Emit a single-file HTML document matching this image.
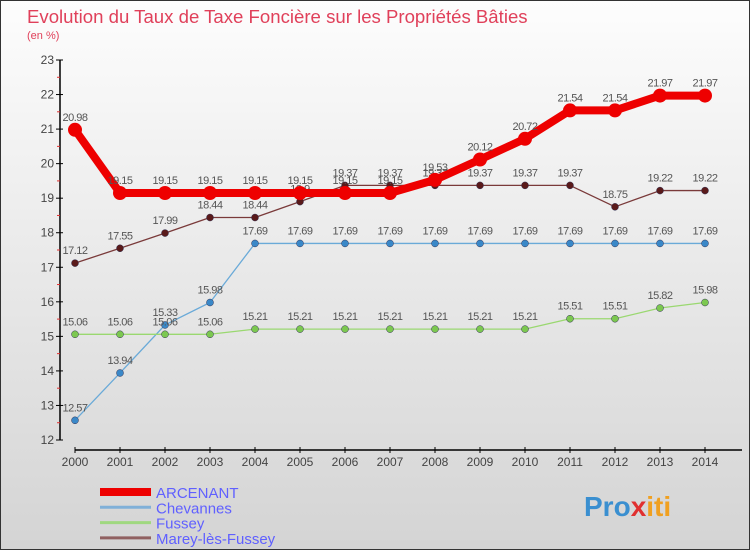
<!DOCTYPE html>
<html><head><meta charset="utf-8"><style>
html,body{margin:0;padding:0}
body{width:750px;height:550px;overflow:hidden;font-family:"Liberation Sans",sans-serif}
#c{position:absolute;left:0;top:0;width:748px;height:548px;border:1px solid #333;background:linear-gradient(#fdfdfd,#d4d4d4)}
</style></head><body>
<div id="c">
<svg id="s" width="750" height="550" style="position:absolute;left:-1px;top:-1px">
<text x="27" y="23" font-size="18.6" fill="#e0405a">Evolution du Taux de Taxe Foncière sur les Propriétés Bâties</text>
<text x="27" y="39" font-size="11" fill="#e0405a">(en %)</text>
<g id="axes"></g><g id="series"></g><g id="legend"></g>
<text x="584" y="516" font-size="28" font-weight="bold" fill="#f0a020"><tspan fill="#3a8fd0">Pro</tspan><tspan fill="#e03030">x</tspan><tspan fill="#f0a020">iti</tspan></text>
</svg>
</div>
<script>
const years=[2000,2001,2002,2003,2004,2005,2006,2007,2008,2009,2010,2011,2012,2013,2014];
const yTicks=[12,13,14,15,16,17,18,19,20,21,22,23];
const arcenant=[20.98,19.15,19.15,19.15,19.15,19.15,19.15,19.15,19.53,20.12,20.72,21.54,21.54,21.97,21.97];
const chevannes=[12.57,13.94,15.33,15.98,17.69,17.69,17.69,17.69,17.69,17.69,17.69,17.69,17.69,17.69,17.69];
const fussey=[15.06,15.06,15.06,15.06,15.21,15.21,15.21,15.21,15.21,15.21,15.21,15.51,15.51,15.82,15.98];
const marey=[17.12,17.55,17.99,18.44,18.44,18.9,19.37,19.37,19.37,19.37,19.37,19.37,18.75,19.22,19.22];
const names=["ARCENANT","Chevannes","Fussey","Marey-lès-Fussey"];
const NS="http://www.w3.org/2000/svg";
const X=i=>75+(i)*(630/(years.length-1));
const Y=v=>440-(v-12)*(380/11);
function mk(t,a,p){const e=document.createElementNS(NS,t);for(const k in a)e.setAttribute(k,a[k]);p.appendChild(e);return e;}
const ax=document.getElementById('axes');
let yl=mk('line',{x1:60,y1:Y(23),x2:60,y2:Y(12),stroke:'#000','stroke-width':1.5},ax);

yTicks.forEach(v=>{
 mk('line',{x1:56,y1:Y(v),x2:63,y2:Y(v),stroke:'#000'},ax);
 if(v<23)mk('line',{x1:57,y1:Y(v+0.5),x2:60,y2:Y(v+0.5),stroke:'#e03030'},ax);
 const t=mk('text',{x:54,y:Y(v)+4,'font-size':12,fill:'#444','text-anchor':'end'},ax);t.textContent=v;
 
});
let xl=mk('line',{x1:75,y1:450,x2:742,y2:450,stroke:'#000','stroke-width':1.5},ax);

years.forEach((yr,i)=>{
 mk('line',{x1:X(i),y1:447,x2:X(i),y2:453,stroke:'#000'},ax);
 const t=mk('text',{x:X(i),y:466,'font-size':12,fill:'#444','text-anchor':'middle'},ax);t.textContent=yr;
 
});
const sg=document.getElementById('series');
const defs=[[chevannes,'#6aaad8','#3a88c8',1.3,3.5,'chevannes'],[fussey,'#9ad870','#7cc850',1.3,3.5,'fussey'],[marey,'#7a3a3a','#5a1a1a',1.3,3.5,'marey-les-fussey'],[arcenant,'#ee0000','#ee0000',8,7,'arcenant']];
defs.forEach(([d,lc,pc,w,r,n])=>{
 const g=mk('g',{},sg);
 
 const p=mk('polyline',{points:d.map((v,i)=>X(i)+','+Y(v)).join(' '),fill:'none',stroke:lc,'stroke-width':w,'stroke-linejoin':'round'},g);
 
 d.forEach((v,i)=>{
  const c=mk('circle',{cx:X(i),cy:Y(v),r:r,fill:pc,stroke:w>2?'none':'#335',"stroke-width":0.5},g);
  
  const t=mk('text',{x:X(i),y:Y(v)-9,'font-size':11,fill:'#555','text-anchor':'middle','letter-spacing':'-0.5'},g);
  t.textContent=v.toFixed(2).replace(/0$/,'').replace(/\.$/,'');
  
 });
});
const lg=document.getElementById('legend');
const lcol=['#ee0000','#80b0d8','#a0d880','#906060'],lw=[8,3,3,3];
names.forEach((nm,i)=>{
 const y=492+i*15.3;
 const g=mk('g',{},lg);
 mk('line',{x1:100,y1:y,x2:151,y2:y,stroke:lcol[i],'stroke-width':lw[i]},g);
 const t=mk('text',{x:156,y:y+6,'font-size':15,fill:'#6060ff'},g);t.textContent=nm;
});
</script>
</body></html>
